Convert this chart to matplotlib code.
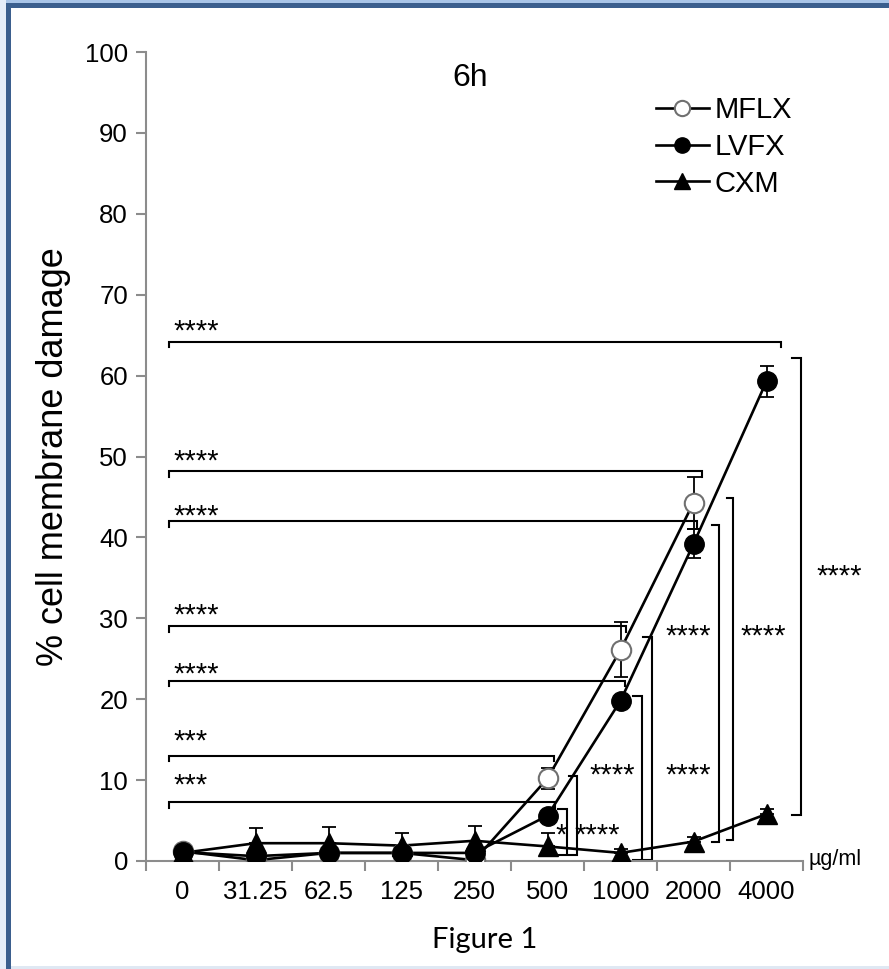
import numpy as np
import matplotlib
matplotlib.use("Agg")
import matplotlib.pyplot as plt
from matplotlib.patches import Rectangle
from matplotlib.lines import Line2D

plt.rcParams['font.family'] = ['Liberation Sans', 'DejaVu Sans']

# ---------------- data ----------------
categories = ["0", "31.25", "62.5", "125", "250", "500", "1000", "2000", "4000"]
mflx = [1.2, 0.1, 1.0, 1.0, 0.1, 10.2, 26.1, 44.3, np.nan]
mflx_err = [0.3, 0.2, 0.3, 0.3, 0.2, 1.3, 3.4, 3.2, np.nan]
lvfx = [1.1, 0.6, 1.0, 1.0, 1.0, 5.6, 19.8, 39.2, 59.3]
lvfx_err = [0.3, 0.3, 0.3, 0.3, 0.3, 0.6, 0.6, 1.8, 1.9]
cxm = [1.0, 2.2, 2.2, 1.9, 2.5, 1.8, 1.0, 2.4, 5.8]
cxm_err_up = [0.5, 1.9, 2.0, 1.6, 1.8, 1.6, 0.5, 0.6, 0.6]
yticks = [0, 10, 20, 30, 40, 50, 60, 70, 80, 90, 100]

# horizontal significance brackets: (y, x_end, label, label_y)
hbrackets = [
    (64.2, 8.20, "****", 65.4),
    (48.2, 7.12, "****", 49.4),
    (42.0, 7.05, "****", 42.6),
    (29.0, 6.08, "****", 30.3),
    (22.3, 6.06, "****", 23.0),
    (13.0, 5.09, "***", 14.8),
    (7.3, 5.10, "***", 9.3),
]
# vertical brackets: (x, y_top, y_bottom, tick_x)
vbrackets = [
    (5.267, 6.4, 0.74, 5.144),
    (5.404, 10.5, 0.74, 5.295),
    (6.295, 20.4, 0.12, 6.171),
    (6.432, 27.7, 0.12, 6.308),
    (7.349, 41.5, 2.3, 7.253),
    (7.541, 44.9, 2.6, 7.459),
    (8.473, 62.2, 5.7, 8.349),
]
vlabels = [
    (5.185, 3.2, "*"), (5.678, 3.2, "****"), (5.884, 10.6, "****"),
    (6.925, 10.6, "****"), (6.925, 27.7, "****"), (7.952, 27.7, "****"),
    (8.993, 35.1, "****"),
]

W, H = 889, 969
fig = plt.figure(figsize=(W / 100, H / 100), dpi=100)
fig.patch.set_facecolor("white")

# frame
def prect(x, y, w, h, c):
    fig.patches.append(Rectangle((x / W, 1 - (y + h) / H), w / W, h / H,
                                 transform=fig.transFigure, color=c, lw=0, zorder=0))
prect(0, 0, W, 3, "#a9c5e8")
prect(0, 0, 6, H, "#e6eef9")
prect(6, 3, W - 6, 5, "#3b5f8e")
prect(6, 3, 5, H - 3, "#3b5f8e")
prect(11, H - 3, W - 11, 3, "#dfe8f3")

ax = fig.add_axes([146 / W, 1 - 861 / H, (803 - 146) / W, (861 - 52) / H])
x = np.arange(len(categories))
ax.set_xlim(-0.5, len(categories) - 0.5)
ax.set_ylim(0, 100)

gray = "#8c8c8c"
for s in ["top", "right"]:
    ax.spines[s].set_visible(False)
for s in ["left", "bottom"]:
    ax.spines[s].set_color(gray)
    ax.spines[s].set_linewidth(1.5)
ax.set_yticks(yticks)
ax.set_yticklabels([str(v) for v in yticks], fontsize=18.5)
ax.tick_params(axis="y", length=7, width=1.5, color=gray, pad=6)
ax.set_xticks(x)
ax.set_xticklabels(categories, fontsize=18.5)
ax.tick_params(axis="x", which="major", length=0, pad=14)
ax.set_xticks(np.arange(len(categories) + 1) - 0.5, minor=True)
ax.tick_params(axis="x", which="minor", length=7, width=1.5, color=gray)
ax.set_ylabel("% cell membrane damage", fontsize=26, labelpad=10)

lw = 1.9
ms = 14
# error bars
ax.errorbar(x, mflx, yerr=mflx_err, fmt="none", ecolor="black", elinewidth=1.3,
            capsize=5, capthick=1.3, zorder=3)
ax.errorbar(x, lvfx, yerr=lvfx_err, fmt="none", ecolor="black", elinewidth=1.3,
            capsize=5, capthick=1.3, zorder=3)
ax.errorbar(x, cxm, yerr=[np.zeros(len(cxm)), cxm_err_up], fmt="none", ecolor="black",
            elinewidth=1.3, capsize=5, capthick=1.3, zorder=3)
# lines
ax.plot(x, mflx, "-", color="black", lw=lw, zorder=4)
ax.plot(x, lvfx, "-", color="black", lw=lw, zorder=4)
ax.plot(x, cxm, "-", color="black", lw=lw, zorder=4)
# markers
ax.plot(x, mflx, "o", ms=ms, mfc="white", mec="#707070", mew=1.5, zorder=5)
ax.plot(x, cxm, "^", ms=ms, mfc="black", mec="black", zorder=6)
ax.plot(x, lvfx, "o", ms=ms, mfc="black", mec="black", zorder=7)

# significance brackets
blw = 1.5
drop = 0.7
for y, xe, lab, ly in hbrackets:
    ax.plot([-0.185, -0.185, xe, xe], [y - drop, y, y, y - drop], color="black",
            lw=blw, solid_joinstyle="miter", zorder=2)
    ax.text(-0.12, ly, lab, fontsize=21, ha="left", va="center")
for xv, yt, yb, xt in vbrackets:
    ax.plot([xt, xv, xv, xt], [yt, yt, yb, yb], color="black", lw=blw,
            solid_joinstyle="miter", clip_on=False, zorder=2)
for lx, ly, lab in vlabels:
    ax.text(lx, ly, lab, fontsize=21, ha="center", va="center", clip_on=False)

# legend
handles = [
    Line2D([], [], color="black", lw=lw, marker="o", ms=11, mfc="white", mec="#707070", mew=1.5),
    Line2D([], [], color="black", lw=lw, marker="o", ms=11, mfc="black", mec="black"),
    Line2D([], [], color="black", lw=lw, marker="^", ms=11, mfc="black", mec="black"),
]
leg = fig.legend(handles, ["MFLX", "LVFX", "CXM"], loc="upper left",
                 bbox_to_anchor=(656 / W, 1 - 96 / H), frameon=False, fontsize=21,
                 handlelength=1.8, handletextpad=0.2, labelspacing=0.3,
                 borderpad=0, borderaxespad=0)

fig.text(470 / W, 1 - 78 / H, "6h", fontsize=23, ha="center", va="center")
fig.text(808 / W, 1 - 859 / H, "µg/ml", fontsize=15.5, ha="left", va="center")
fig.text(485 / W, 1 - 940 / H, "Figure 1", fontsize=21, ha="center", va="center",
         family=["Lato", "DejaVu Sans"])

fig.savefig("out.png", dpi=100)
